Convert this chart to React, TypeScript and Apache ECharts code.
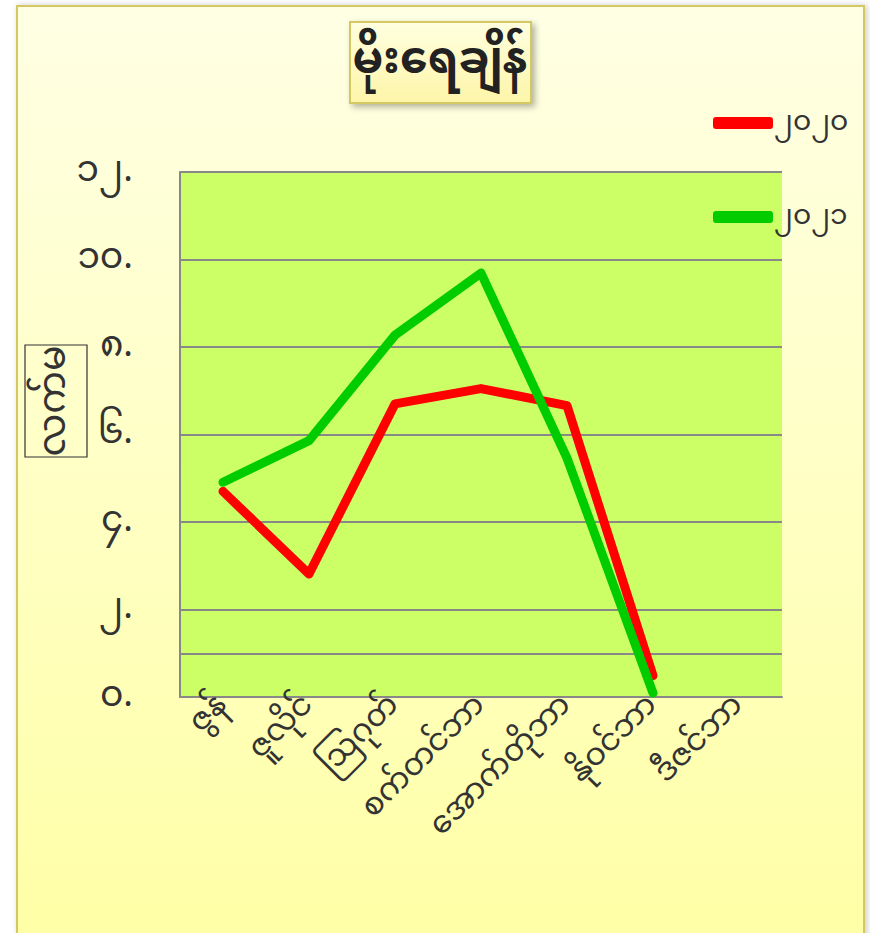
import React, { useEffect, useRef } from "react";
import * as echarts from "echarts";

const titleText = "မိုးရေချိန်";
const yAxisName = "လက်မ";
const categories = ["ဇွန်", "ဇူလိုင်", "ဩဂုတ်", "စက်တင်ဘာ", "အောက်တိုဘာ", "နိုဝင်ဘာ", "ဒီဇင်ဘာ"];
const seriesNames = ["၂၀၂၀", "၂၀၂၁"];
const values2020 = [4.7, 2.81, 6.7, 7.05, 6.66, 0.49, null];
const values2021 = [4.91, 5.86, 8.27, 9.69, 5.46, 0.09, null];
const yTickValues = [0, 2, 4, 6, 8, 10, 12];
const yTickLabels = ["၀.", "၂.", "၄.", "၆.", "၈.", "၁၀.", "၁၂."];
const extraGridValue = 1;

const FONT = "'Noto Sans Myanmar', 'Padauk', 'Myanmar Text', 'Noto Sans', sans-serif";

export default function App() {
  const ref = useRef<HTMLDivElement>(null);
  useEffect(() => {
    if (!ref.current) return;
    const chart = echarts.init(ref.current, undefined, { renderer: "svg" });
    chart.setOption({
      animation: false,
      textStyle: { fontFamily: FONT },
      grid: {
        left: 180,
        right: 88,
        top: 172,
        bottom: 236,
        show: true,
        backgroundColor: "#ccff66",
        borderWidth: 0,
        z: 0,
      },
      legend: {
        orient: "vertical",
        left: 708,
        top: 92,
        itemWidth: 60,
        itemHeight: 12,
        itemGap: 42,
        icon: "roundRect",
        textStyle: { fontSize: 28, color: "#333", fontFamily: FONT, lineHeight: 36, padding: [0, 0, 16, -4] },
        data: seriesNames,
      },
      xAxis: {
        type: "category",
        data: categories,
        boundaryGap: true,
        z: 3,
        axisLine: { show: true, lineStyle: { color: "#888", width: 2 } },
        axisTick: { show: false },
        axisLabel: {
          rotate: 45,
          interval: 0,
          fontSize: 31,
          color: "#333",
          margin: 4,
          fontFamily: FONT,
        },
      },
      yAxis: {
        type: "value",
        min: 0,
        max: 12,
        interval: 2,
        z: 3,
        axisLine: { show: true, lineStyle: { color: "#888", width: 2 } },
        axisTick: { show: false },
        splitLine: { show: true, lineStyle: { color: "#888", width: 2 } },
        axisLabel: {
          margin: 47,
          fontSize: 36,
          color: "#333",
          fontFamily: FONT,
          formatter: (v: number) => {
            const i = yTickValues.indexOf(v);
            return i >= 0 ? yTickLabels[i] : "";
          },
        },
      },
      series: [
        {
          name: seriesNames[0],
          type: "line",
          data: values2020,
          showSymbol: false,
          symbol: "none",
          itemStyle: { color: "#ff0000" },
          lineStyle: { color: "#ff0000", width: 9, cap: "round", join: "round" },
          z: 5,
          markLine: {
            silent: true,
            symbol: "none",
            label: { show: false },
            lineStyle: { color: "#888", width: 2, type: "solid" },
            data: [{ yAxis: extraGridValue }],
            z: 4,
          },
        },
        {
          name: seriesNames[1],
          type: "line",
          data: values2021,
          showSymbol: false,
          symbol: "none",
          itemStyle: { color: "#00cc00" },
          lineStyle: { color: "#00cc00", width: 9, cap: "round", join: "round" },
          z: 6,
        },
      ],
      graphic: [
        {
          type: "rect",
          z: -10,
          shape: { x: 17, y: 6, width: 847, height: 940 },
          style: {
            fill: new echarts.graphic.LinearGradient(0, 0, 0, 1, [
              { offset: 0, color: "#ffffe4" },
              { offset: 1, color: "#ffffa6" },
            ]),
            stroke: "#d4c862",
            lineWidth: 2,
            shadowBlur: 6,
            shadowColor: "rgba(0,0,0,0.2)",
            shadowOffsetX: 2,
          },
        },
        {
          type: "rect",
          z: 10,
          shape: { x: 350, y: 22, width: 181, height: 81 },
          style: {
            fill: new echarts.graphic.LinearGradient(0, 0, 0, 1, [
              { offset: 0, color: "#ffffe0" },
              { offset: 1, color: "#fdf5a8" },
            ]),
            stroke: "#d4c862",
            lineWidth: 2,
            shadowBlur: 6,
            shadowColor: "rgba(0,0,0,0.3)",
            shadowOffsetX: 3,
            shadowOffsetY: 3,
          },
        },
        {
          type: "text",
          z: 11,
          x: 440,
          y: 63,
          style: {
            text: titleText,
            fontSize: 44,
            fontWeight: "bold",
            fontFamily: FONT,
            fill: "#222",
            align: "center",
            verticalAlign: "middle",
          },
        },
        {
          type: "rect",
          z: 10,
          shape: { x: 25, y: 345, width: 62, height: 112 },
          style: { fill: "transparent", stroke: "#333", lineWidth: 1.2 },
        },
        {
          type: "text",
          z: 11,
          x: 56,
          y: 401,
          rotation: Math.PI / 2,
          style: {
            text: yAxisName,
            fontSize: 38,
            fontFamily: FONT,
            fill: "#333",
            align: "center",
            verticalAlign: "middle",
          },
        },
      ],
    });
    return () => chart.dispose();
  }, []);
  return (
    <div
      ref={ref}
      style={{ position: "fixed", left: 0, top: 0, width: 870, height: 933, background: "#fff" }}
    />
  );
}
